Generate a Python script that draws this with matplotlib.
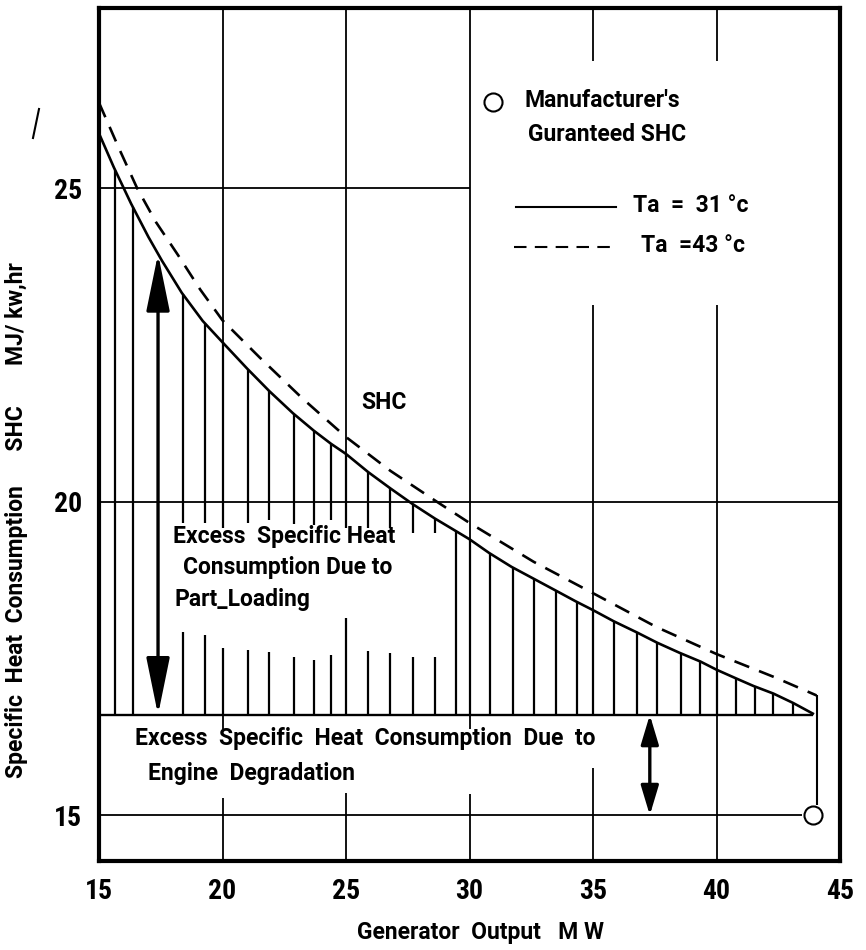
import numpy as np
import matplotlib
matplotlib.use('Agg')
import matplotlib.pyplot as plt
from matplotlib import font_manager

names = {f.name for f in font_manager.fontManager.ttflist}
cond = [n for n in ['Roboto Condensed', 'Liberation Sans Narrow'] if n in names]
plt.rcParams['font.family'] = ['Roboto', 'DejaVu Sans']
plt.rcParams['font.weight'] = 'semibold'
plt.rcParams['axes.labelweight'] = 'semibold'
TICKFONT = cond + ['Roboto', 'DejaVu Sans']

# SHC curve, Ta = 31 C  (MW, MJ/kW.hr)
x_31 = [15.0, 15.6, 16.3, 17.0, 17.55, 18.35, 19.2, 20.0, 21.0, 21.9, 22.85, 23.7,
        24.4, 25.0, 25.9, 26.8, 27.7, 28.6, 29.45, 30.0, 30.8, 31.7, 32.6, 33.5, 34.3,
        35.0, 35.85, 36.8, 37.6, 38.5, 39.35, 40.0, 40.8, 41.5, 42.3, 43.1, 43.9]
y_31 = [25.87, 25.33, 24.75, 24.22, 23.84, 23.33, 22.88, 22.54, 22.12, 21.76, 21.41,
        21.13, 20.92, 20.76, 20.47, 20.21, 19.96, 19.73, 19.53, 19.4, 19.18, 18.96,
        18.77, 18.58, 18.41, 18.27, 18.09, 17.91, 17.75, 17.59, 17.45, 17.32, 17.18,
        17.06, 16.94, 16.79, 16.62]

# SHC curve, Ta = 43 C
x_43 = [15.0, 15.8, 16.54, 17.3, 18.2, 19.1, 20.0, 21.5, 23.25, 25.0, 26.8, 28.67,
        30.0, 32.6, 35.0, 37.57, 40.0, 42.35, 44.05]
y_43 = [26.36, 25.64, 25.0, 24.46, 23.93, 23.38, 22.89, 22.3, 21.64, 21.03, 20.49,
        20.0, 19.66, 19.04, 18.54, 18.0, 17.57, 17.2, 16.91]

# manufacturer's guaranteed point
x_guar, y_guar = 43.9, 15.0
base_shc = 16.6   # degraded full load level

# hatching
hatch_x = [15.65, 16.38, 18.4, 19.3, 20.0, 21.05, 21.9, 22.9, 23.7, 24.4, 25.0, 25.9,
           26.8, 27.7, 28.6, 29.45, 30.0, 30.85, 31.75, 32.6, 33.5, 34.35, 35.0, 35.85,
           36.8, 37.6, 38.55, 39.35, 40.0, 40.8, 41.55, 42.3, 43.1]
# lines cut by the part loading text: lower top / upper bottom
cut_x = [18.4, 19.3, 20.0, 21.05, 21.9, 22.9, 23.7, 24.4, 25.0, 25.9, 26.8, 27.7, 28.6]
cut_lo = [17.92, 17.87, 17.67, 17.64, 17.61, 17.53, 17.48, 17.56, 18.15, 17.62, 17.59,
          17.53, 17.52]
cut_hi = [19.66, 19.66, 19.58, 19.66, 19.7, 19.64, 19.63, 19.7, 19.58, 19.58, 19.58,
          19.5, 19.5]

arrow_x_part = 17.39
arrow_x_deg = 37.3

x_ticks = [15, 20, 25, 30, 35, 40, 45]
y_ticks = [15, 20, 25]

YTOP, YBOT = 27.87, 14.27

fig = plt.figure(figsize=(8.66, 9.5), dpi=100)
ax = fig.add_axes([99/866, 89/950, 741/866, 853/950])
ax.set_xlim(15, 45)
ax.set_ylim(YBOT, YTOP)

lw_g = 1.3
k = 'black'
# ----- hand drawn grid pieces
ax.hlines(25, 15, 30, color=k, lw=lw_g)
ax.hlines(20, 15, 45, color=k, lw=lw_g)
ax.hlines(y_guar, 15, x_guar - 0.42, color=k, lw=lw_g)
ax.hlines(base_shc, 15, x_31[-1], color=k, lw=1.7)

segs = [(20, 19.58, YTOP), (20, 16.37, 17.67), (20, YBOT, 15.28),
        (25, 19.58, YTOP), (25, base_shc, 18.15), (25, YBOT, 15.36),
        (30, 16.37, YTOP), (30, YBOT, 15.34),
        (35, 27.02, YTOP), (35, base_shc, 23.13), (35, YBOT, 15.75),
        (40, 27.02, YTOP), (40, YBOT, 23.13)]
for xs, y0, y1 in segs:
    ax.vlines(xs, y0, y1, color=k, lw=lw_g)

# ----- hatching under the curve
tops = np.interp(hatch_x, x_31, y_31)
for xh, yt in zip(hatch_x, tops):
    if xh in cut_x:
        i = cut_x.index(xh)
        ax.vlines(xh, base_shc, cut_lo[i], color=k, lw=1.6)
        ax.vlines(xh, min(cut_hi[i], yt), yt, color=k, lw=1.6)
    else:
        ax.vlines(xh, base_shc, yt, color=k, lw=1.6)

# ----- curves
ax.plot(x_31, y_31, color=k, lw=1.9)
ax.plot(x_43, y_43, color=k, lw=1.9, ls=(0, (6, 4)))
ax.vlines(x_43[-1], y_guar + 0.17, y_43[-1], color=k, lw=1.5)
ax.plot(x_guar, y_guar, 'o', ms=13, mfc='white', mec=k, mew=1.5, zorder=5)

# ----- arrows
y_arr_top = float(np.interp(arrow_x_part, x_31, y_31))
ax.annotate('', xy=(arrow_x_part, y_arr_top), xytext=(arrow_x_part, base_shc),
            arrowprops=dict(arrowstyle='<|-|>,head_length=2.2,head_width=0.45',
                            mutation_scale=16, color=k, lw=2.4, shrinkA=0, shrinkB=0))
ax.annotate('', xy=(arrow_x_deg, base_shc), xytext=(arrow_x_deg, y_guar),
            arrowprops=dict(arrowstyle='<|-|>,head_length=1.5,head_width=0.45',
                            mutation_scale=12, color=k, lw=2.4, shrinkA=0, shrinkB=0))

# ----- texts
fs = 16.5
tr = ax.transAxes
ax.plot([0.532], [0.890], 'o', ms=13, mfc='white', mec=k, mew=1.5, transform=tr)
ax.text(0.574, 0.892, "Manufacturer's", fontsize=fs, transform=tr, va='center')
ax.text(0.579, 0.852, 'Guranteed SHC', fontsize=fs, transform=tr, va='center')
ax.plot([0.563, 0.698], [0.767, 0.767], color=k, lw=1.5, transform=tr)
ax.text(0.721, 0.769, 'Ta  =  31 °c', fontsize=fs, transform=tr, va='center')
ax.plot([0.560, 0.698], [0.720, 0.720], color=k, lw=1.5, ls=(0, (6, 4)), transform=tr)
ax.text(0.732, 0.722, 'Ta  =43 °c', fontsize=fs, transform=tr, va='center')
ax.text(0.384, 0.537, 'SHC', fontsize=fs, transform=tr, ha='center', va='center')
ax.text(0.100, 0.380, 'Excess  Specific Heat', fontsize=fs, transform=tr, va='center')
ax.text(0.113, 0.344, 'Consumption Due to', fontsize=fs, transform=tr, va='center')
ax.text(0.102, 0.306, 'Part_Loading', fontsize=fs, transform=tr, va='center')
ax.text(0.049, 0.144, 'Excess  Specific  Heat  Consumption  Due  to', fontsize=fs,
        transform=tr, va='center')
ax.text(0.066, 0.103, 'Engine  Degradation', fontsize=fs, transform=tr, va='center')

ax.set_xticks(x_ticks, labels=[str(v) for v in x_ticks],
              fontfamily=TICKFONT, fontsize=20, fontweight='bold')
ax.set_yticks(y_ticks, labels=[str(v) for v in y_ticks],
              fontfamily=TICKFONT, fontsize=20, fontweight='bold')
ax.tick_params(axis='x', length=0, pad=12)
ax.tick_params(axis='y', length=0, pad=12)

ax.set_xlabel('Generator  Output   M W', fontsize=16.5, va='center')
ax.xaxis.set_label_coords(0.515, -0.084)
ax.set_ylabel('Specific  Heat  Consumption      SHC       MJ/ kw,hr', fontsize=16.5)
ax.yaxis.set_label_coords(-0.096, 0.40)

for s in ax.spines.values():
    s.set_linewidth(3)

# stray pen mark left of the axis
fig.add_artist(plt.Line2D([33/866, 39/866], [1 - 138/950, 1 - 109/950], color=k, lw=1.5))

fig.savefig('out.png', dpi=100)
